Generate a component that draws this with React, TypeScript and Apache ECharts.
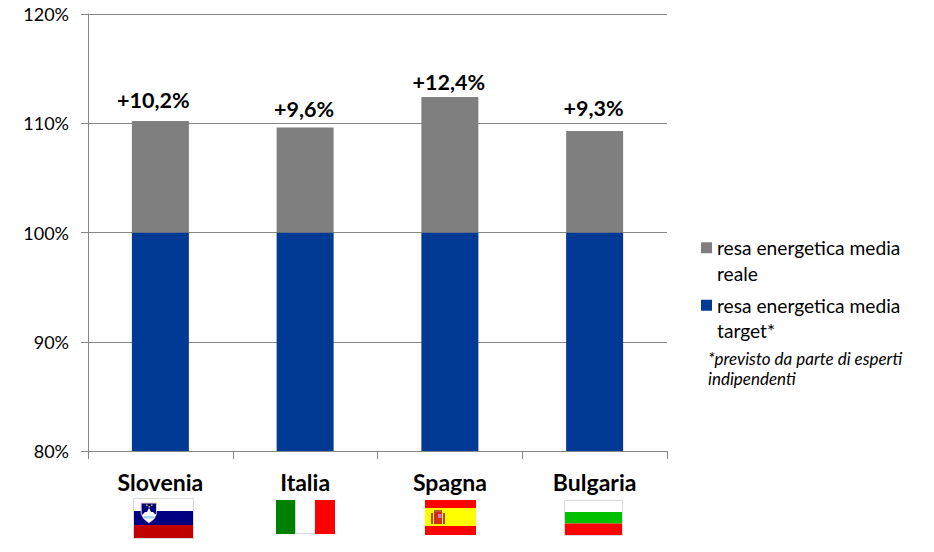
import React, { useEffect, useRef } from "react";
import * as echarts from "echarts";

const categories = ["Slovenia", "Italia", "Spagna", "Bulgaria"];
const targetValues = [100, 100, 100, 100];
const realExtra = [10.2, 9.6, 12.4, 9.3];
const barLabels = ["+10,2%", "+9,6%", "+12,4%", "+9,3%"];
const labelShiftX = [-7, -1, -1, -1];
const labelGap = [10, 8, 4, 12];
const targetName = "resa energetica media\ntarget*";
const realName = "resa energetica media\nreale";
const noteText = "*previsto da parte di esperti\nindipendenti";

const FONT = "Lato, Carlito, sans-serif";
const AXIS = "#868686";

const r = (x: number, y: number, w: number, h: number, fill: string, z = 1) => ({
  type: "rect", shape: { x, y, width: w, height: h }, style: { fill }, z,
});
const border = (x: number, y: number, w: number, h: number) => ({
  type: "rect", shape: { x, y, width: w, height: h },
  style: { fill: "none", stroke: "#d9d9d9", lineWidth: 1 }, z: 3,
});

const flags = [
  // Slovenia
  r(134, 498, 60, 13, "#ffffff"),
  r(134, 511, 60, 14, "#000080"),
  r(134, 525, 60, 13.5, "#c00000"),
  border(133.5, 498.5, 60, 40),
  { type: "polygon", shape: { points: [[141, 503], [156.5, 503], [156.5, 514], [154, 519], [149, 523], [144, 519], [141, 514]] } , style: { fill: "#ffffff", stroke: "#e8b0b0", lineWidth: 0.7 }, z: 4 },
  { type: "polygon", shape: { points: [[141.6, 503.5], [156, 503.5], [156, 514], [154.5, 516], [143, 516], [141.6, 514]] }, style: { fill: "#000080" }, z: 5 },
  { type: "polygon", shape: { points: [[142, 515], [145, 512], [147, 512], [149, 508], [151, 512], [153, 512], [156, 515], [154, 518], [149, 522], [144, 518]] }, style: { fill: "#ffffff" }, z: 6 },
  r(144, 516, 10, 2.5, "#a8d8f0", 7),
  r(146, 504.5, 1.5, 1.5, "#e0c040", 7),
  r(151, 504.5, 1.5, 1.5, "#e0c040", 7),
  r(148.5, 506, 1.5, 1.5, "#e0c040", 7),
  // Italia
  r(276, 500, 19.5, 34, "#008000"),
  r(295.5, 500, 19.5, 34, "#ffffff"),
  r(315, 500, 20, 34, "#ff0000"),
  { type: "line", shape: { x1: 295.5, y1: 533.5, x2: 315, y2: 533.5 }, style: { stroke: "#d9d9d9", lineWidth: 1 }, z: 3 },
  // Spagna
  r(425, 500, 51, 35, "#ff0000"),
  r(425, 508, 51, 18, "#ffff00", 2),
  r(434, 511, 8, 13, "#d03010", 3),
  r(431, 513, 2, 11, "#c04030", 3),
  r(443, 513, 2, 11, "#c04030", 3),
  r(434, 510, 8, 2, "#c06020", 3),
  r(438, 514, 3.5, 4, "#c080d0", 4),
  // Bulgaria
  r(565, 500.5, 57, 11.5, "#ffffff"),
  r(565, 512, 57, 11.5, "#00c000"),
  r(565, 523.5, 57, 12, "#ff0000"),
  border(564.5, 500.5, 58, 35),
];

export default function App() {
  const ref = useRef<HTMLDivElement>(null);
  useEffect(() => {
    const chart = echarts.init(ref.current!, undefined, { renderer: "svg" });
    chart.setOption({
      animation: false,
      backgroundColor: "#ffffff",
      textStyle: { fontFamily: FONT },
      grid: { left: 88, right: 267, top: 14, bottom: 101, containLabel: false },
      legend: {
        left: 701,
        top: 209.5,
        padding: 0,
        orient: "vertical",
        selectedMode: false,
        icon: "rect",
        itemWidth: 11,
        itemHeight: 11,
        itemGap: -19,
        data: [realName, targetName],
        formatter: (name: string) => "\n" + name,
        textStyle: { fontFamily: FONT, fontSize: 19.2, color: "#000", lineHeight: 25.5 },
      },
      xAxis: {
        type: "category",
        data: categories,
        axisLine: { lineStyle: { color: AXIS, width: 1 } },
        axisTick: { show: true, length: 8, lineStyle: { color: AXIS, width: 1 } },
        axisLabel: { color: "#000", fontFamily: FONT, fontSize: 23, fontWeight: "bold", margin: 19 },
      },
      yAxis: {
        type: "value",
        min: 80,
        max: 120,
        interval: 10,
        axisLine: { show: true, lineStyle: { color: AXIS, width: 1 } },
        axisTick: { show: true, length: 7, lineStyle: { color: AXIS, width: 1 } },
        axisLabel: { color: "#000", fontFamily: FONT, fontSize: 18, margin: 19, formatter: "{value}%" },
        splitLine: { show: true, lineStyle: { color: AXIS, width: 1 } },
      },
      series: [
        {
          name: targetName,
          type: "bar",
          stack: "resa",
          barWidth: 57,
          itemStyle: { color: "#003A94" },
          data: targetValues,
        },
        {
          name: realName,
          type: "bar",
          stack: "resa",
          barWidth: 57,
          itemStyle: { color: "#7F7F7F" },
          data: realExtra.map((value, i) => ({
            value,
            label: {
              show: true,
              position: "top",
              distance: labelGap[i],
              offset: [labelShiftX[i], 0],
              formatter: barLabels[i],
              color: "#000",
              fontFamily: FONT,
              fontSize: 21.5,
              fontWeight: "bold",
            },
          })),
        },
      ],
      graphic: [
        {
          type: "text",
          left: 708,
          top: 348,
          style: { text: noteText, fontFamily: FONT, fontSize: 17, fontStyle: "italic", lineHeight: 20, fill: "#000" },
        },
        ...flags,
      ],
    });
    return () => chart.dispose();
  }, []);
  return <div ref={ref} style={{ position: "fixed", left: 0, top: 0, width: 934, height: 552 }} />;
}
